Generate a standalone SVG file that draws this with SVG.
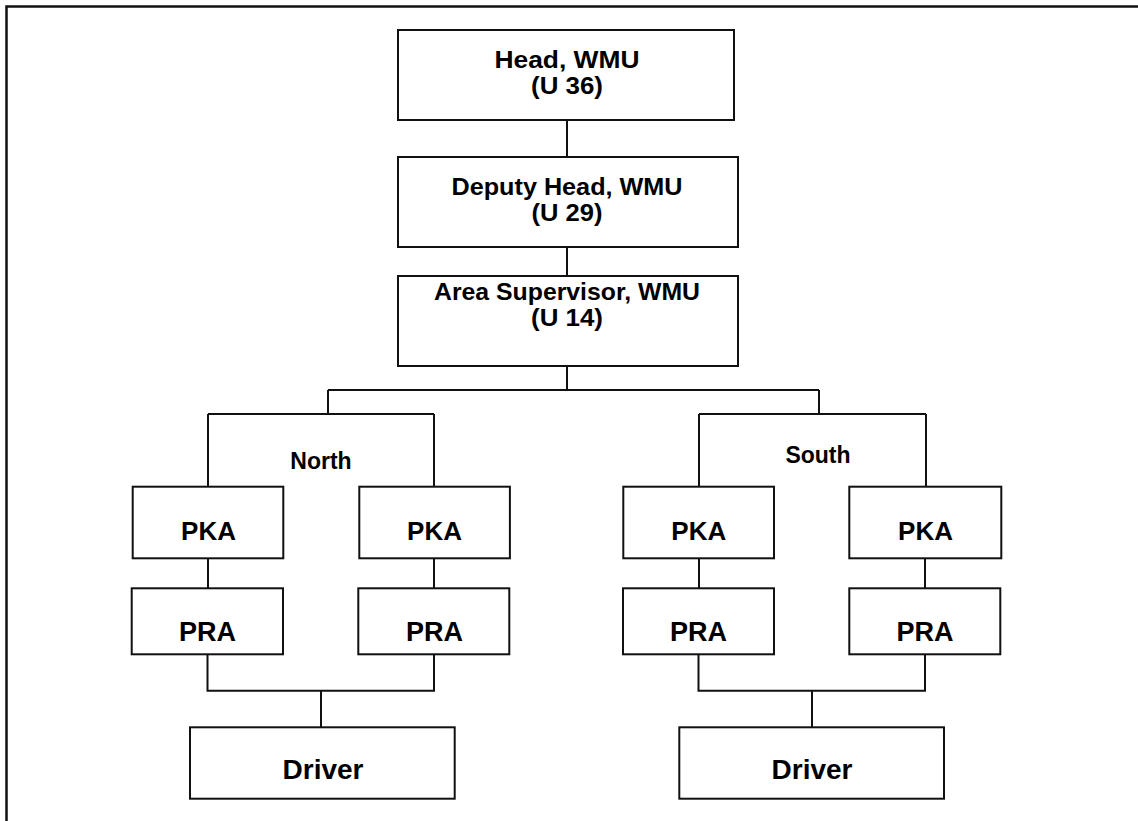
<svg xmlns="http://www.w3.org/2000/svg" width="1138" height="821" viewBox="0 0 1138 821">
  <style>
    .box { fill: #ffffff; stroke: #111111; stroke-width: 2; }
    .wire { fill: none; stroke: #111111; stroke-width: 2; }
    .frame { fill: #ffffff; stroke: #111111; stroke-width: 2.5; }
    text { font-family: "Liberation Sans", Arial, sans-serif; font-weight: bold; fill: #000000; text-anchor: middle; }
    .t1 { font-size: 24px; }
    .lbl { font-size: 23px; }
    .pk { font-size: 26px; }
    .pr { font-size: 27px; }
    .dr { font-size: 28px; }
  </style>

  <!-- page frame (continues past the right and bottom edges) -->
  <rect class="frame" x="6.5" y="6.5" width="1150" height="840"/>

  <!-- connectors -->
  <g id="connectors">
    <path class="wire" d="M567 120 V157"/>
    <path class="wire" d="M567 247 V276"/>
    <path class="wire" d="M567 366 V390 M328 390 H819 M328 390 V414 M819 390 V414"/>
    <path class="wire" d="M208 414 H434 M208 414 V487 M434 414 V487"/>
    <path class="wire" d="M699 414 H926 M699 414 V487 M926 414 V487"/>
    <path class="wire" d="M208 558 V588 M434 558 V588 M699 558 V588 M925 558 V588"/>
    <path class="wire" d="M207.5 654 V690.7 H434 V654 M321 690.7 V727.3"/>
    <path class="wire" d="M698.5 654 V690.7 H925 V654 M812 690.7 V727.3"/>
  </g>

  <!-- the three top titles are set slightly wide: glyphs stretched to fixed lengths -->
  <g id="head">
    <rect class="box" x="398" y="30" width="336" height="90"/>
    <text class="t1" x="567" y="67.5" textLength="145" lengthAdjust="spacingAndGlyphs">Head, WMU</text>
    <text class="t1" x="567" y="94" textLength="72" lengthAdjust="spacingAndGlyphs">(U 36)</text>
  </g>
  <g id="deputy-head">
    <rect class="box" x="398" y="157" width="340" height="90"/>
    <text class="t1" x="567" y="194.5" textLength="231" lengthAdjust="spacingAndGlyphs">Deputy Head, WMU</text>
    <text class="t1" x="567" y="221" textLength="71" lengthAdjust="spacingAndGlyphs">(U 29)</text>
  </g>
  <g id="area-supervisor">
    <rect class="box" x="398" y="276" width="340" height="90"/>
    <text class="t1" x="567" y="299.5" textLength="266" lengthAdjust="spacingAndGlyphs">Area Supervisor, WMU</text>
    <text class="t1" x="567" y="326" textLength="72" lengthAdjust="spacingAndGlyphs">(U 14)</text>
  </g>

  <g id="label-north"><text class="lbl" x="321" y="469.3">North</text></g>
  <g id="label-south"><text class="lbl" x="818" y="462.7">South</text></g>

  <g id="pka-north-1">
    <rect class="box" x="132.7" y="486.7" width="150.6" height="71.6"/>
    <text class="pk" x="208.5" y="540">PKA</text>
  </g>
  <g id="pka-north-2">
    <rect class="box" x="359.3" y="486.7" width="150.6" height="71.6"/>
    <text class="pk" x="434.5" y="540">PKA</text>
  </g>
  <g id="pka-south-1">
    <rect class="box" x="623.3" y="486.7" width="150.7" height="71.6"/>
    <text class="pk" x="698.8" y="540">PKA</text>
  </g>
  <g id="pka-south-2">
    <rect class="box" x="849.3" y="486.7" width="152" height="71.6"/>
    <text class="pk" x="925.5" y="540">PKA</text>
  </g>

  <g id="pra-north-1">
    <rect class="box" x="131.7" y="588.3" width="151.3" height="66"/>
    <text class="pr" x="207.5" y="640.7">PRA</text>
  </g>
  <g id="pra-north-2">
    <rect class="box" x="358.3" y="588.3" width="151" height="66"/>
    <text class="pr" x="434.5" y="640.7">PRA</text>
  </g>
  <g id="pra-south-1">
    <rect class="box" x="623" y="588.3" width="151" height="66"/>
    <text class="pr" x="698.5" y="640.7">PRA</text>
  </g>
  <g id="pra-south-2">
    <rect class="box" x="849.3" y="588.3" width="151" height="66"/>
    <text class="pr" x="925" y="640.7">PRA</text>
  </g>

  <g id="driver-north">
    <rect class="box" x="190" y="727.3" width="264.7" height="71.4"/>
    <text class="dr" x="323" y="779.3">Driver</text>
  </g>
  <g id="driver-south">
    <rect class="box" x="679.3" y="727.3" width="264.7" height="71.4"/>
    <text class="dr" x="812" y="779.3">Driver</text>
  </g>
</svg>
